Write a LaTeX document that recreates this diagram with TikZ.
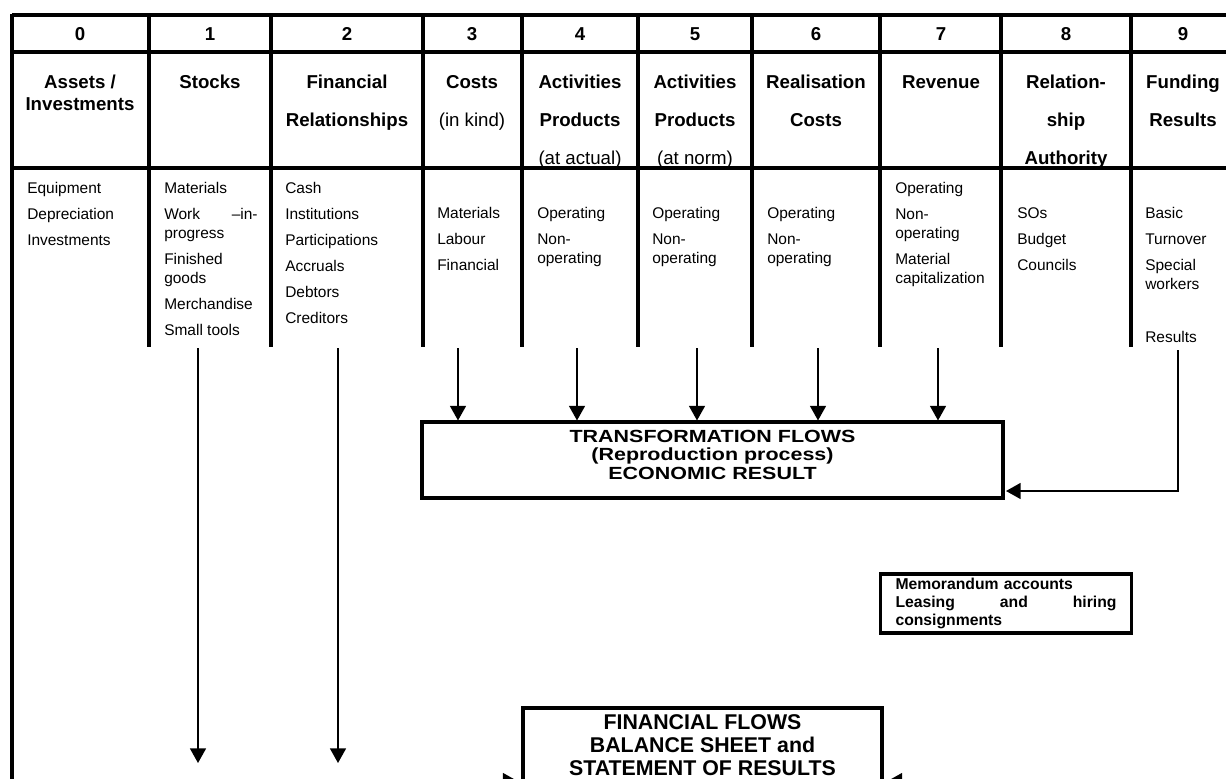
\documentclass[tikz,border=0pt]{standalone}
\usepackage{fontspec}
\setmainfont{Liberation Sans}
\newfontfamily\wideface[FakeStretch=1.22]{Liberation Sans}
\usetikzlibrary{arrows.meta}

\begin{document}
\begin{tikzpicture}[x=0.75pt,y=-0.75pt,
        tabline/.style={line width=2.6pt},
        numtxt/.style={inner sep=0pt,font=\fontsize{14}{16.5}\selectfont\bfseries},
        headtxt/.style={inner sep=0pt,anchor=north,align=center,font=\fontsize{14}{16.5}\selectfont\bfseries},
        itemtxt/.style={inner sep=0pt,anchor=north west,align=left,font=\fontsize{11.6}{14.25}\selectfont},
        flowbox/.style={draw,line width=2.3pt,inner sep=0pt},
        flowtxt/.style={inner sep=0pt,align=center,font=\wideface\bfseries\fontsize{13.2}{13.9}\selectfont},
        fintxt/.style={inner sep=0pt,anchor=north,align=center,font=\bfseries\fontsize{16}{17.25}\selectfont},
        flowarrow/.style={line width=1.2pt,-{Triangle[length=11pt,width=12pt]}}]
        \useasboundingbox (0,0) rectangle (1226,778);
        \clip (0,0) rectangle (1226,778);

        \draw[tabline] (12,15) -- (1240,15);
        \draw[tabline] (12,52) -- (1240,52);
        \draw[tabline] (12,168) -- (1240,168);
        \draw[tabline] (12,14) -- (12,790);
        \draw[tabline] (149,15) -- (149,347);
        \draw[tabline] (271,15) -- (271,347);
        \draw[tabline] (423,15) -- (423,347);
        \draw[tabline] (522,15) -- (522,347);
        \draw[tabline] (638,15) -- (638,347);
        \draw[tabline] (752,15) -- (752,347);
        \draw[tabline] (880,15) -- (880,347);
        \draw[tabline] (1001,15) -- (1001,347);
        \draw[tabline] (1131,15) -- (1131,347);

        \node[numtxt] (N0) at (80,34) {0};
        \node[numtxt] (N1) at (210,34) {1};
        \node[numtxt] (N2) at (347,34) {2};
        \node[numtxt] (N3) at (472,34) {3};
        \node[numtxt] (N4) at (580,34) {4};
        \node[numtxt] (N5) at (695,34) {5};
        \node[numtxt] (N6) at (816,34) {6};
        \node[numtxt] (N7) at (941,34) {7};
        \node[numtxt] (N8) at (1066,34) {8};
        \node[numtxt] (N9) at (1183,34) {9};

        \node[headtxt] (H0) at (80,75) {Assets /\\Investments};
        \node[headtxt] (H1) at (210,75) {Stocks};
        \node[headtxt] (H2) at (347,75) {Financial\\[12pt]Relationships};
        \node[headtxt] (H3) at (472,75) {Costs\\[12pt]{\mdseries (in kind)}};
        \node[headtxt] (H4) at (580,75) {Activities\\[12pt]Products\\[12pt]{\mdseries (at actual)}};
        \node[headtxt] (H5) at (695,75) {Activities\\[12pt]Products\\[12pt]{\mdseries (at norm)}};
        \node[headtxt] (H6) at (816,75) {Realisation\\[12pt]Costs};
        \node[headtxt] (H7) at (941,75) {Revenue};
        \node[headtxt] (H8) at (1066,75) {Relation-\\[12pt]ship\\[12pt]Authority};
        \node[headtxt] (H9) at (1183,75) {Funding\\[12pt]Results};

        \node[itemtxt] (B0) at (27,182) {Equipment\\[5.25pt]Depreciation\\[5.25pt]Investments};
        \node[itemtxt] (B1) at (164,182) {Materials\\[5.25pt]\makebox[70pt]{Work\hfill –in-}\\progress\\[5.25pt]Finished\\goods\\[5.25pt]Merchandise\\[5.25pt]Small tools};
        \node[itemtxt] (B2) at (285,182) {Cash\\[5.25pt]Institutions\\[5.25pt]Participations\\[5.25pt]Accruals\\[5.25pt]Debtors\\[5.25pt]Creditors};
        \node[itemtxt] (B3) at (437,207) {Materials\\[5.25pt]Labour\\[5.25pt]Financial};
        \node[itemtxt] (B4) at (537,207) {Operating\\[5.25pt]Non-\\operating};
        \node[itemtxt] (B5) at (652,207) {Operating\\[5.25pt]Non-\\operating};
        \node[itemtxt] (B6) at (767,207) {Operating\\[5.25pt]Non-\\operating};
        \node[itemtxt] (B7) at (895,182) {Operating\\[5.25pt]Non-\\operating\\[5.25pt]Material\\capitalization};
        \node[itemtxt] (B8) at (1017,207) {SOs\\[5.25pt]Budget\\[5.25pt]Councils};
        \node[itemtxt] (B9) at (1145,207) {Basic\\[5.25pt]Turnover\\[5.25pt]Special\\workers\\[25.5pt]Results};

        \node[flowbox,minimum width=435.75pt,minimum height=57pt] (T) at (712.5,460) {};
        \node[flowtxt] (TT) at (712.5,454.5) {TRANSFORMATION FLOWS\\(Reproduction process)\\ECONOMIC RESULT};

        \node[flowbox,text width=165.75pt,inner xsep=11.25pt,minimum height=44.25pt,align=left,
              font=\bfseries\fontsize{11.8}{13.5}\selectfont] (M) at (1006,603.5)
              {Memorandum accounts\\\makebox[165.75pt]{Leasing\hfill and\hfill hiring}\\consignments};

        \node[flowbox,minimum width=269.25pt,minimum height=78pt] (F) at (702.5,760) {};
        \node[fintxt] (FT) at (702.5,714) {FINANCIAL FLOWS\\BALANCE SHEET and\\STATEMENT OF RESULTS};

        \coordinate (S1) at (198,348);
        \coordinate (E1) at (198,763);
        \coordinate (S2) at (338,348);
        \coordinate (E2) at (338,763);
        \coordinate (S3) at (458,348);
        \coordinate (S4) at (577,348);
        \coordinate (S5) at (697,348);
        \coordinate (S6) at (818,348);
        \coordinate (S7) at (938,348);
        \coordinate (S9) at (1178,350);
        \coordinate (R9) at (1006,491);
        \coordinate (FL) at (440,781);
        \coordinate (FR) at (960,781);

        \draw[flowarrow] (S1) -- (E1);
        \draw[flowarrow] (S2) -- (E2);
        \draw[flowarrow] (S3) -- (S3 |- T.north);
        \draw[flowarrow] (S4) -- (S4 |- T.north);
        \draw[flowarrow] (S5) -- (S5 |- T.north);
        \draw[flowarrow] (S6) -- (S6 |- T.north);
        \draw[flowarrow] (S7) -- (S7 |- T.north);
        \draw[flowarrow] (S9) |- (R9);
        \draw[flowarrow,shorten >=3pt] (FL) -- (FL -| F.west);
        \draw[flowarrow,shorten >=3pt] (FR) -- (FR -| F.east);
    \end{tikzpicture}
\end{document}
